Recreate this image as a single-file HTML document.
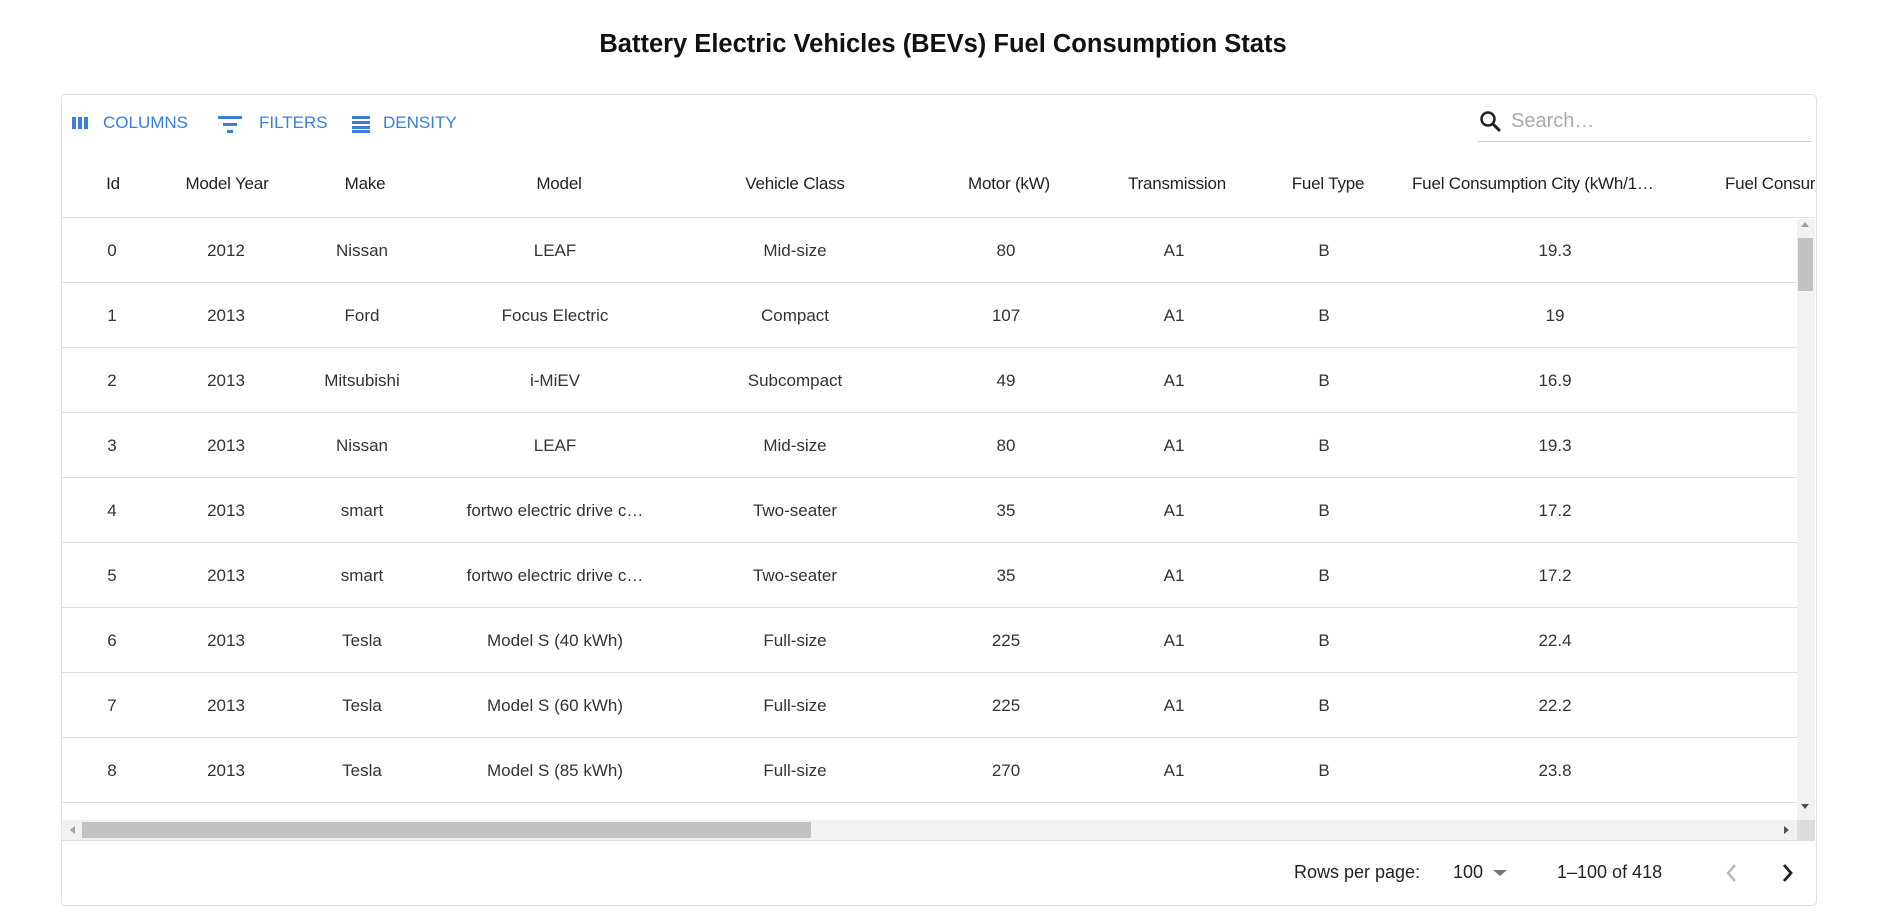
<!DOCTYPE html>
<html><head><meta charset="utf-8"><style>
body{margin:0;width:1887px;height:913px;background:#fff;font-family:"Liberation Sans",Arial,sans-serif;color:rgba(0,0,0,.87);position:relative;overflow:hidden}
.a{position:absolute;white-space:nowrap}
.c{transform:translateX(-50%)}
.title{left:943px;top:30px;font-weight:bold;font-size:25.5px;color:#111}
.box{position:absolute;left:61px;top:94px;width:1754px;height:810px;border:1px solid #e0e0e0;border-radius:5px}
.tb{color:#3b7dd8;font-size:17px;top:113px}
.hd{top:174px;font-size:17px;font-weight:500;color:#222;letter-spacing:-0.2px}
.cell{font-size:17px;color:#333}
.ft{font-size:18px;color:#222;top:862px}
.hl{position:absolute;left:62px;width:1735px;height:1px;background:#e0e0e0}
</style></head><body>
<div class="a c title">Battery Electric Vehicles (BEVs) Fuel Consumption Stats</div>
<div class="box"></div>
<svg class="a" style="left:71px;top:116px" width="18" height="14"><rect x="1" y="1" width="4" height="12" fill="#3b7dd8"/><rect x="7" y="1" width="4" height="12" fill="#3b7dd8"/><rect x="13" y="1" width="4" height="12" fill="#3b7dd8"/></svg>
<div class="a tb" style="left:103px">COLUMNS</div>
<svg class="a" style="left:217px;top:114px" width="26" height="20"><rect x="1" y="2" width="24" height="3" fill="#3b7dd8"/><rect x="6" y="9" width="14" height="3" fill="#3b7dd8"/><rect x="10" y="16" width="6" height="3" fill="#3b7dd8"/></svg>
<div class="a tb" style="left:259px">FILTERS</div>
<svg class="a" style="left:352px;top:115px" width="18" height="18"><rect x="0" y="1" width="18" height="3" fill="#3b7dd8"/><rect x="0" y="6" width="18" height="3" fill="#3b7dd8"/><rect x="0" y="11" width="18" height="3" fill="#3b7dd8"/><rect x="0" y="15" width="18" height="3" fill="#3b7dd8"/></svg>
<div class="a tb" style="left:383px">DENSITY</div>
<svg class="a" style="left:1479px;top:110px" width="24" height="24"><circle cx="9" cy="9" r="6.5" stroke="#222" stroke-width="2.5" fill="none"/><line x1="14" y1="14" x2="21" y2="21" stroke="#222" stroke-width="3"/></svg>
<div class="a" style="left:1511px;top:110px;font-size:20px;color:#aaa">Search…</div>
<div class="a" style="left:1478px;top:141px;width:333px;height:1px;background:#c8c8c8"></div>
<div class="a c hd" style="left:113px">Id</div>
<div class="a c hd" style="left:227px">Model Year</div>
<div class="a c hd" style="left:365px">Make</div>
<div class="a c hd" style="left:559px">Model</div>
<div class="a c hd" style="left:795px">Vehicle Class</div>
<div class="a c hd" style="left:1009px">Motor (kW)</div>
<div class="a c hd" style="left:1177px">Transmission</div>
<div class="a c hd" style="left:1328px">Fuel Type</div>
<div class="a hd" style="left:1412px">Fuel Consumption City (kWh/1…</div>
<div class="a hd" style="left:1725px;width:90px;overflow:hidden">Fuel Consumption</div>
<div class="hl" style="top:217px;width:1753px"></div>
<div id="rows"></div>
<div class="a" style="left:1797px;top:219px;width:18px;height:601px;background:#f1f1f1"></div>
<div class="a" style="left:1798px;top:238px;width:15px;height:53px;background:#c1c1c1"></div>
<div class="a" style="left:1801px;top:222px;width:0;height:0;border-left:4px solid transparent;border-right:4px solid transparent;border-bottom:5px solid #a0a0a0"></div>
<div class="a" style="left:1801px;top:804px;width:0;height:0;border-left:4px solid transparent;border-right:4px solid transparent;border-top:5px solid #505050"></div>
<div class="a" style="left:62px;top:820px;width:1735px;height:20px;background:#f1f1f1"></div>
<div class="a" style="left:1797px;top:820px;width:18px;height:20px;background:#dcdcdc"></div>
<div class="a" style="left:82px;top:822px;width:729px;height:16px;background:#c1c1c1"></div>
<div class="a" style="left:70px;top:826px;width:0;height:0;border-top:4px solid transparent;border-bottom:4px solid transparent;border-right:5px solid #a0a0a0"></div>
<div class="a" style="left:1784px;top:826px;width:0;height:0;border-top:4px solid transparent;border-bottom:4px solid transparent;border-left:5px solid #505050"></div>
<div class="hl" style="top:840px;width:1753px"></div>
<div class="a ft" style="left:1294px">Rows per page:</div>
<div class="a ft" style="left:1453px">100</div>
<div class="a" style="left:1493px;top:870px;width:0;height:0;border-left:7px solid transparent;border-right:7px solid transparent;border-top:6px solid #777"></div>
<div class="a ft" style="left:1557px">1–100 of 418</div>
<svg class="a" style="left:1724px;top:862px" width="16" height="22"><polyline points="11,3 4,11 11,19" fill="none" stroke="#bbb" stroke-width="2.5"/></svg>
<svg class="a" style="left:1779px;top:862px" width="16" height="22"><polyline points="5,3 12,11 5,19" fill="none" stroke="#222" stroke-width="2.8"/></svg>
<script>
var d=[[0,2012,"Nissan","LEAF","Mid-size",80,19.3],[1,2013,"Ford","Focus Electric","Compact",107,19],[2,2013,"Mitsubishi","i-MiEV","Subcompact",49,16.9],[3,2013,"Nissan","LEAF","Mid-size",80,19.3],[4,2013,"smart","fortwo electric drive c…","Two-seater",35,17.2],[5,2013,"smart","fortwo electric drive c…","Two-seater",35,17.2],[6,2013,"Tesla","Model S (40 kWh)","Full-size",225,22.4],[7,2013,"Tesla","Model S (60 kWh)","Full-size",225,22.2],[8,2013,"Tesla","Model S (85 kWh)","Full-size",270,23.8]];
var xs=[112,226,362,555,795,1006,1174,1324,1555],h="";
d.forEach(function(r,i){var y=250+i*65;var v=[r[0],r[1],r[2],r[3],r[4],r[5],"A1","B",r[6]];
v.forEach(function(t,j){h+='<div class="a c cell" style="left:'+xs[j]+'px;top:'+(y-9)+'px">'+t+'</div>'});
h+='<div class="hl" style="top:'+(y+32)+'px"></div>';});
document.getElementById("rows").innerHTML=h;
</script>
</body></html>
